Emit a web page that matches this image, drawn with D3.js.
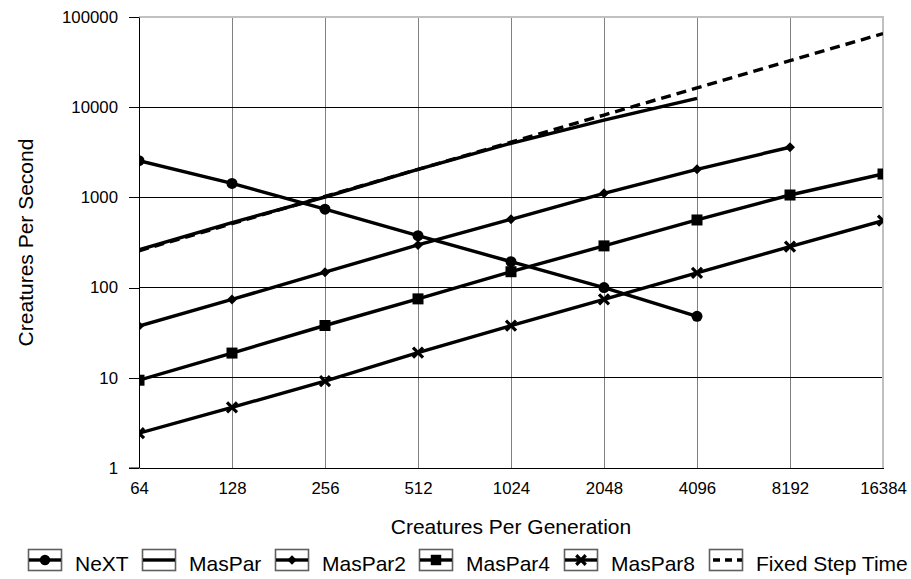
<!DOCTYPE html>
<html><head><meta charset="utf-8">
<script src="https://cdn.jsdelivr.net/npm/d3@7"></script>
<style>
html,body{margin:0;padding:0;background:#fff;overflow:hidden;}
svg{display:block;}
text{font-family:"Liberation Sans",Arial,sans-serif;fill:#000;}
</style></head>
<body><svg id="c" width="911" height="579"></svg>
<script>
const sizes = [64, 128, 256, 512, 1024, 2048, 4096, 8192, 16384];
const yTicks = [1, 10, 100, 1000, 10000, 100000];
const nextVals    = [2550, 1430, 740, 376, 194, 100, 48];
const masparVals  = [262, 525, 1010, 2050, 3980, 7200, 12500];
const maspar2Vals = [37.5, 74, 148, 297, 572, 1110, 2050, 3600];
const maspar4Vals = [9.4, 18.8, 38, 75, 150, 290, 562, 1063, 1817];
const maspar8Vals = [2.43, 4.7, 9.2, 19, 37.8, 74, 146, 284, 552];
const fixedVals   = [256, 512, 1024, 2048, 4096, 8192, 16384, 32768, 65536];
const seriesNames = ["NeXT", "MasPar", "MasPar2", "MasPar4", "MasPar8", "Fixed Step Time"];
const seriesMarkers = ["circle", "none", "diamond", "square", "cross", "none"];
const seriesDash = [false, false, false, false, false, true];
const seriesVals = [nextVals, masparVals, maspar2Vals, maspar4Vals, maspar8Vals, fixedVals];

const svg = d3.select("#c");
const L = 139, R = 883, T = 17, B = 468;
const x = d3.scaleLog().base(2).domain([64, 16384]).range([L, R]);
const y = d3.scaleLog().domain([1, 100000]).range([B, T]);

svg.append("g").selectAll("line").data(sizes.slice(1, -1)).join("line")
  .attr("x1", d => x(d)).attr("x2", d => x(d)).attr("y1", T).attr("y2", B)
  .attr("stroke", "#808080").attr("stroke-width", 1).attr("shape-rendering", "crispEdges");
svg.append("g").selectAll("line").data(yTicks.slice(1, -1)).join("line")
  .attr("x1", L).attr("x2", R).attr("y1", d => y(d)).attr("y2", d => y(d))
  .attr("stroke", "#000").attr("stroke-width", 1).attr("shape-rendering", "crispEdges");
svg.append("path").attr("d", `M${L},${T}H${R}V${B}`).attr("fill", "none")
  .attr("stroke", "#c0c0c0").attr("stroke-width", 1.2).attr("shape-rendering", "crispEdges");

const yAxis = svg.append("g").attr("transform", `translate(${L},0)`)
  .call(d3.axisLeft(y).tickValues(yTicks).tickFormat(d3.format("d")).tickSize(10).tickSizeOuter(0));
yAxis.select(".domain").attr("stroke", "#000");
yAxis.selectAll(".tick line").attr("stroke", "#000").attr("shape-rendering", "crispEdges");
yAxis.selectAll(".tick text").attr("x", -21).attr("font-size", 16.8).attr("font-family", "Liberation Sans");

const xAxis = svg.append("g").attr("transform", `translate(0,${B})`)
  .call(d3.axisBottom(x).tickValues(sizes).tickFormat(d3.format("d")).tickSize(0).tickSizeOuter(0));
xAxis.select(".domain").attr("stroke", "#000").attr("shape-rendering", "crispEdges");
xAxis.selectAll(".tick text").attr("y", 14).attr("font-size", 16.8).attr("font-family", "Liberation Sans");
svg.append("line").attr("x1", L - 10).attr("x2", L).attr("y1", B).attr("y2", B).attr("stroke", "#000");

svg.append("text").attr("x", (L + R) / 2).attr("y", 534).attr("text-anchor", "middle")
  .attr("font-size", 21).text("Creatures Per Generation");
svg.append("text").attr("transform", `translate(33,${(T + B) / 2}) rotate(-90)`)
  .attr("text-anchor", "middle").attr("font-size", 21).text("Creatures Per Second");

svg.append("clipPath").attr("id", "clip").append("rect")
  .attr("x", L).attr("y", T - 5).attr("width", R - L).attr("height", B - T + 5);

function marker(g, type, px, py, scale) {
  const s = scale || 1;
  if (type === "circle") g.append("circle").attr("cx", px).attr("cy", py).attr("r", 5.5 * s).attr("fill", "#000");
  else if (type === "square") g.append("rect").attr("x", px - 5.5 * s).attr("y", py - 5.5 * s).attr("width", 11 * s).attr("height", 11 * s).attr("fill", "#000");
  else if (type === "diamond") g.append("path").attr("d", `M${px},${py - 5 * s}L${px + 5 * s},${py}L${px},${py + 5 * s}L${px - 5 * s},${py}Z`).attr("fill", "#000");
  else if (type === "cross") g.append("path").attr("d", `M${px - 5 * s},${py - 5 * s}L${px + 5 * s},${py + 5 * s}M${px - 5 * s},${py + 5 * s}L${px + 5 * s},${py - 5 * s}`).attr("stroke", "#000").attr("stroke-width", 3.2);
}

const plot = svg.append("g").attr("clip-path", "url(#clip)");
const line = d3.line().x((d, i) => x(sizes[i])).y(d => y(d));
const order = [5, 1, 0, 2, 3, 4];
order.forEach(k => {
  plot.append("path").datum(seriesVals[k]).attr("d", line).attr("fill", "none")
    .attr("stroke", "#000").attr("stroke-width", 3.4)
    .attr("stroke-dasharray", seriesDash[k] ? "10,6" : null);
});
order.forEach(k => {
  if (seriesMarkers[k] === "none") return;
  const g = plot.append("g");
  seriesVals[k].forEach((v, i) => marker(g, seriesMarkers[k], x(sizes[i]), y(v)));
});

// legend
const lg = svg.append("g");
const items = [];
let pos = 0;
const gap = 13.6;
seriesNames.forEach((name, k) => {
  const g = lg.append("g");
  g.append("rect").attr("x", 0.5).attr("y", -10.5).attr("width", 33).attr("height", 21)
    .attr("fill", "none").attr("stroke", "#606060").attr("stroke-width", 1.6);
  g.append("line").attr("x1", 1).attr("x2", 33).attr("y1", 0).attr("y2", 0)
    .attr("stroke", "#000").attr("stroke-width", 3.4)
    .attr("stroke-dasharray", seriesDash[k] ? "7,5" : null)
    .attr("stroke-dashoffset", seriesDash[k] ? -3 : null);
  marker(g, seriesMarkers[k], 17, 0, 0.95);
  const t = g.append("text").attr("x", 47).attr("y", 11).attr("font-size", 21).text(name);
  const w = t.node().getComputedTextLength();
  items.push({g, x: pos});
  pos += 47 + w + gap;
});
const total = pos - gap;
const start = 467.5 - total / 2;
items.forEach(it => it.g.attr("transform", `translate(${Math.round(start + it.x)},560)`));
</script></body></html>
